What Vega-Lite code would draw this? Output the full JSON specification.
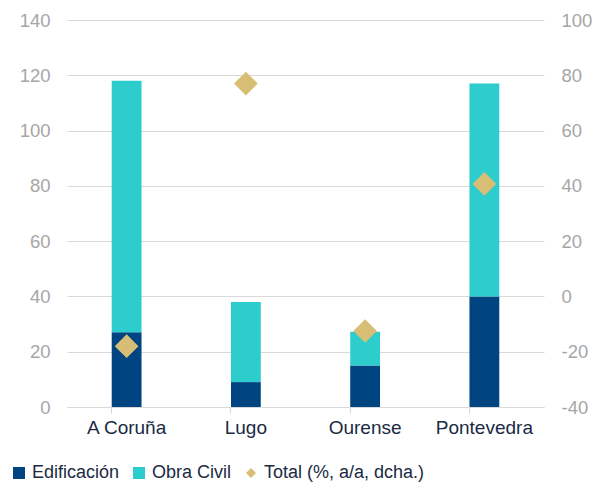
{
  "$schema": "https://vega.github.io/schema/vega-lite/v6.json",
  "autosize": "none",
  "width": 477,
  "height": 387,
  "padding": {"left": 67, "top": 20, "right": 59, "bottom": 75},
  "background": "white",
  "config": {
    "view": {"stroke": null},
    "font": "Liberation Sans",
    "axis": {"labelFont": "Liberation Sans", "labelFontSize": 18.5}
  },
  "data": {
    "values": [
      {"prov": "A Coruña", "serie": "Edificación", "valor": 27, "orden": 1},
      {"prov": "A Coruña", "serie": "Obra Civil", "valor": 91, "orden": 2},
      {"prov": "A Coruña", "serie": "Total (%, a/a, dcha.)", "valor": -18, "orden": 3},
      {"prov": "Lugo", "serie": "Edificación", "valor": 9, "orden": 1},
      {"prov": "Lugo", "serie": "Obra Civil", "valor": 29, "orden": 2},
      {"prov": "Lugo", "serie": "Total (%, a/a, dcha.)", "valor": 77, "orden": 3},
      {"prov": "Ourense", "serie": "Edificación", "valor": 15, "orden": 1},
      {"prov": "Ourense", "serie": "Obra Civil", "valor": 12.2, "orden": 2},
      {"prov": "Ourense", "serie": "Total (%, a/a, dcha.)", "valor": -12.5, "orden": 3},
      {"prov": "Pontevedra", "serie": "Edificación", "valor": 40, "orden": 1},
      {"prov": "Pontevedra", "serie": "Obra Civil", "valor": 77, "orden": 2},
      {"prov": "Pontevedra", "serie": "Total (%, a/a, dcha.)", "valor": 40.7, "orden": 3}
    ]
  },
  "encoding": {
    "x": {
      "field": "prov",
      "type": "nominal",
      "sort": ["A Coruña", "Lugo", "Ourense", "Pontevedra"],
      "scale": {"paddingInner": 0.75, "paddingOuter": 0.375},
      "axis": {
        "title": null,
        "labelAngle": 0,
        "labelColor": "#1a2a44",
        "labelFontSize": 19,
        "labelPadding": 5,
        "domainColor": "#d9d9d9",
        "tickColor": "#d9d9d9",
        "tickSize": 6,
        "bandPosition": 0,
        "grid": false
      }
    },
    "color": {
      "field": "serie",
      "type": "nominal",
      "scale": {
        "domain": ["Edificación", "Obra Civil", "Total (%, a/a, dcha.)"],
        "range": ["#004481", "#2DCCCD", "#D8BE75"]
      },
      "legend": {
        "title": null,
        "orient": "none",
        "legendX": -57,
        "legendY": 444,
        "direction": "horizontal",
        "labelFontSize": 18,
        "labelColor": "#1a2a44",
        "labelFont": "Liberation Sans",
        "labelLimit": 400,
        "symbolSize": 144,
        "symbolStrokeWidth": 0,
        "columnPadding": 10,
        "labelOffset": 4,
        "symbolOffset": 0,
        "encode": {
          "symbols": {
            "update": {
              "shape": {"signal": "datum.value == 'Total (%, a/a, dcha.)' ? 'diamond' : 'square'"},
              "size": {"signal": "datum.value == 'Total (%, a/a, dcha.)' ? 100 : 144"}
            }
          }
        }
      }
    }
  },
  "layer": [
    {
      "transform": [{"filter": "datum.serie != 'Total (%, a/a, dcha.)'"}],
      "mark": {"type": "bar"},
      "encoding": {
        "y": {
          "field": "valor",
          "type": "quantitative",
          "stack": "zero",
          "scale": {"domain": [0, 140], "nice": false},
          "axis": {
            "title": null,
            "values": [0, 20, 40, 60, 80, 100, 120, 140],
            "labelColor": "#a6a6a6",
            "labelPadding": 17,
            "ticks": false,
            "domain": false,
            "grid": true,
            "gridColor": "#d9d9d9",
            "gridWidth": 1
          }
        },
        "order": {"field": "orden", "type": "quantitative"}
      }
    },
    {
      "transform": [{"filter": "datum.serie == 'Total (%, a/a, dcha.)'"}],
      "mark": {"type": "point", "shape": "diamond", "filled": true, "size": 560, "opacity": 1},
      "encoding": {
        "y": {
          "field": "valor",
          "type": "quantitative",
          "scale": {"domain": [-40, 100], "nice": false},
          "axis": {
            "title": null,
            "orient": "right",
            "values": [-40, -20, 0, 20, 40, 60, 80, 100],
            "labelExpr": "'' + datum.value",
            "labelColor": "#a6a6a6",
            "labelPadding": 17,
            "ticks": false,
            "domain": false,
            "grid": false
          }
        }
      }
    }
  ],
  "resolve": {"scale": {"y": "independent"}}
}
